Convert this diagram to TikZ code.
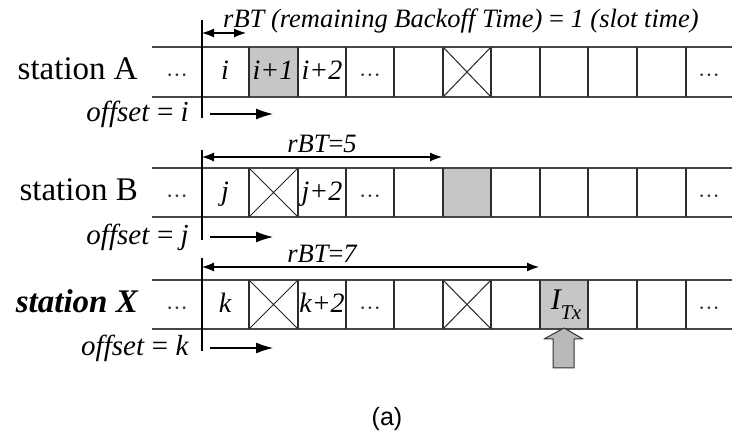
\documentclass[tikz,border=0pt]{standalone}
\usepackage{fontspec}
\setmainfont{Liberation Serif}
\newfontfamily\sansf{Liberation Sans}
\usetikzlibrary{arrows.meta}
\begin{document}
\begin{tikzpicture}[x=1pt,y=-1pt,
  rowline/.style={draw=gray!55!black, line width=1.6pt},
  cellline/.style={draw=gray!35!black, line width=1.3pt},
  shadecell/.style={fill=gray!45},
  crossline/.style={draw=gray!30!black, line width=1pt},
  marker/.style={draw=black, line width=2.4pt},
  span/.style={draw=black, line width=1.1pt, {Latex[length=12pt,width=9pt]}-{Latex[length=12pt,width=9pt]}},
  offarrow/.style={draw=black, line width=1.1pt, -{Latex[length=17pt,width=11pt]}},
  stationlbl/.style={anchor=base east, font=\fontsize{33}{36}\selectfont, inner sep=0pt},
  celltxt/.style={anchor=base, font=\fontsize{28}{30}\selectfont\itshape, inner sep=0pt},
  dotstxt/.style={anchor=base, font=\fontsize{22}{24}\selectfont, text=gray!40!black, inner sep=0pt},
  offtxt/.style={anchor=base east, font=\fontsize{29}{31}\selectfont, inner sep=0pt},
  spantxt/.style={anchor=base, font=\fontsize{26.5}{28}\selectfont\itshape, inner sep=0pt},
  bigarrow/.style={fill=gray!55, draw=gray!40!black, line width=1pt, line join=round}
]
\useasboundingbox (0,0) rectangle (732,435);

% ---- shaded cells and crossed cells ----
\fill[shadecell] (249,47) rectangle (298,97);
\fill[shadecell] (443,168) rectangle (491,217);
\fill[shadecell] (540,280) rectangle (588,329);

\draw[crossline] (443,47) -- (491,97) (443,97) -- (491,47);
\draw[crossline] (249,168) -- (298,217) (249,217) -- (298,168);
\draw[crossline] (249,280) -- (298,329) (249,329) -- (298,280);
\draw[crossline] (443,280) -- (491,329) (443,329) -- (491,280);

% ---- slot rows ----
\foreach \yt/\yb in {47/97, 168/217, 280/329}{
  \draw[rowline] (152,\yt) -- (732,\yt);
  \draw[rowline] (152,\yb) -- (732,\yb);
  \foreach \xx in {249,298,346,394,443,491,540,588,637,686}{
    \draw[cellline] (\xx,\yt) -- (\xx,\yb);
  }
}

% ---- thick offset markers ----
\coordinate (mAt) at (202,20);  \coordinate (mAb) at (202,118);
\coordinate (mBt) at (202,150); \coordinate (mBb) at (202,240);
\coordinate (mXt) at (202,258); \coordinate (mXb) at (202,351);
\draw[marker] (mAt) -- (mAb);
\draw[marker] (mBt) -- (mBb);
\draw[marker] (mXt) -- (mXb);

% ---- station labels ----
\node[stationlbl] (stA) at (138,80) {station A};
\node[stationlbl] (stB) at (138,201) {station B};
\node[stationlbl, font=\fontsize{33}{36}\selectfont\bfseries\itshape] (stX) at (138,313) {station X};

% ---- cell texts ----
\node[dotstxt] (dA1) at (177,83) {···};
\node[dotstxt] (dA2) at (370,83) {···};
\node[dotstxt] (dA3) at (709,83) {···};
\node[celltxt] (cAi) at (225,80) {i};
\node[celltxt] (cAi1) at (273,80) {i+1};
\node[celltxt] (cAi2) at (322,80) {i+2};

\node[dotstxt] (dB1) at (177,203.5) {···};
\node[dotstxt] (dB2) at (370,203.5) {···};
\node[dotstxt] (dB3) at (709,203.5) {···};
\node[celltxt] (cBj) at (225,201) {j};
\node[celltxt] (cBj2) at (322,201) {j+2};

\node[dotstxt] (dX1) at (177,315.5) {···};
\node[dotstxt] (dX2) at (370,315.5) {···};
\node[dotstxt] (dX3) at (709,315.5) {···};
\node[celltxt] (cXk) at (225,313) {k};
\node[celltxt] (cXk2) at (322,313) {k+2};
\node[inner sep=0pt, font=\fontsize{30}{32}\selectfont\itshape] (itx) at (566,305)
  {I\raisebox{-10pt}{\fontsize{21}{21}\selectfont T\kern-0.5pt x}};

% ---- rBT spans ----
\coordinate (sA0) at (202,33);  \coordinate (sA1) at (246,33);
\coordinate (sB0) at (202,157); \coordinate (sB1) at (442,157);
\coordinate (sX0) at (202,267); \coordinate (sX1) at (539,267);
\draw[span] (sA0) -- (sA1);
\draw[span] (sB0) -- (sB1);
\draw[span] (sX0) -- (sX1);
\node[spantxt, anchor=base west] (tA) at (223,28) {rBT (remaining Backoff Time) {\upshape=} 1 (slot time)};
\node[spantxt] (tB) at (322,153) {rBT{\upshape=}5};
\node[spantxt] (tX) at (322,263) {rBT{\upshape=}7};

% ---- offset arrows ----
\coordinate (oA0) at (210,114); \coordinate (oA1) at (273,114);
\coordinate (oB0) at (210,237); \coordinate (oB1) at (273,237);
\coordinate (oX0) at (210,348); \coordinate (oX1) at (273,348);
\draw[offarrow] (oA0) -- (oA1);
\draw[offarrow] (oB0) -- (oB1);
\draw[offarrow] (oX0) -- (oX1);
\node[offtxt] (lA) at (189,122) {\textit{offset} = \textit{i}};
\node[offtxt] (lB) at (189,245) {\textit{offset} = \textit{j}};
\node[offtxt] (lX) at (189,356) {\textit{offset} = \textit{k}};

% ---- transmission arrow ----
\draw[bigarrow] (564,328) -- (583,339) -- (574,339) -- (574,368) -- (553,368) -- (553,339) -- (544,339) -- cycle;

% ---- caption ----
\node[inner sep=0pt, font=\sansf\fontsize{25}{27}\selectfont] (cap) at (387,419) {(a)};
\end{tikzpicture}
\end{document}
